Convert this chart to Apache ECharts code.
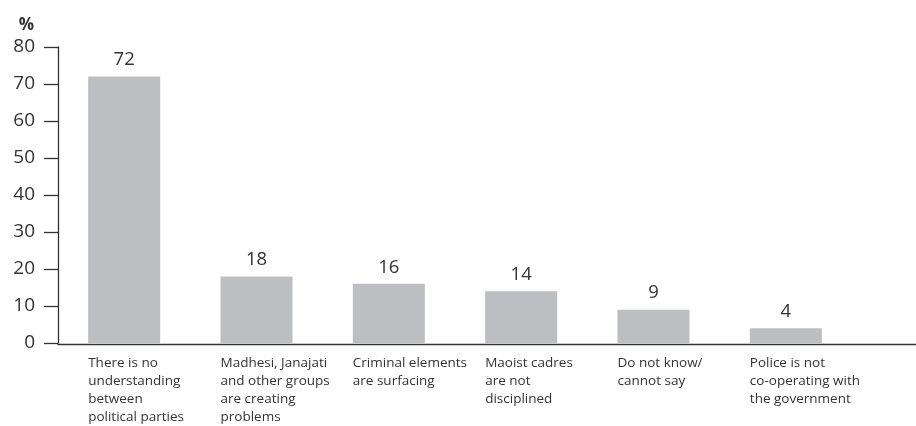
<!DOCTYPE html>
<html>
<head>
<meta charset="utf-8">
<script src="https://cdn.jsdelivr.net/npm/echarts@6/dist/echarts.min.js"></script>
<style>
  html, body { margin: 0; padding: 0; background: #fff; }
  #main { width: 916px; height: 426px; }
</style>
</head>
<body>
<div id="main"></div>
<script>
var categories = [
    'There is no\nunderstanding\nbetween\npolitical parties',
    'Madhesi, Janajati\nand other groups\nare creating\nproblems',
    'Criminal elements\nare surfacing',
    'Maoist cadres\nare not\ndisciplined',
    'Do not know/\ncannot say',
    'Police is not\nco-operating with\nthe government'
];
var values = [72, 18, 16, 14, 9, 4];
var yTicks = [0, 80, 10]; // min, max, interval

var font = '"Open Sans", "Noto Sans", sans-serif';
var txt = '#333';
var chart = echarts.init(document.getElementById('main'));

var option = {
    animation: false,
    backgroundColor: '#fff',
    textStyle: { fontFamily: font },
    grid: [
        { left: 58, right: 64, top: 47, bottom: 82 },
        { left: 58, right: 0, top: 47, bottom: 82 }   // only carries the long baseline
    ],
    xAxis: [{
        type: 'category',
        gridIndex: 0,
        data: categories,
        axisLine: { show: false },
        axisTick: { show: false },
        axisLabel: {
            interval: 0,
            margin: 11,
            color: txt,
            fontFamily: font,
            fontSize: 13.5,
            lineHeight: 18,
            formatter: function (v) {
                return v.split('\n').map(function (s) { return '{a|' + s + '}'; }).join('\n');
            },
            rich: {
                a: { width: 72, align: 'left', fontSize: 13.5, lineHeight: 18, color: txt, fontFamily: font }
            }
        }
    }, {
        type: 'value',
        gridIndex: 1,
        min: 0, max: 1,
        axisLine: { show: true, lineStyle: { color: '#333', width: 1.3 } },
        axisTick: { show: false },
        axisLabel: { show: false },
        splitLine: { show: false }
    }],
    yAxis: [{
        type: 'value',
        gridIndex: 0,
        min: yTicks[0],
        max: yTicks[1],
        interval: yTicks[2],
        name: '%',
        nameLocation: 'end',
        nameGap: 13,
        nameTextStyle: {
            fontWeight: 'bold', fontSize: 17, color: txt,
            align: 'right', padding: [0, 24, 0, 0], fontFamily: font
        },
        axisLine: { show: true, lineStyle: { color: '#333', width: 1.3 } },
        axisTick: { show: true, inside: false, length: 14, lineStyle: { color: '#333', width: 1.3 } },
        axisLabel: { margin: 23, fontSize: 19, color: txt, fontFamily: font },
        splitLine: { show: false }
    }, {
        type: 'value',
        gridIndex: 1,
        show: false
    }],
    series: [{
        type: 'bar',
        xAxisIndex: 0,
        yAxisIndex: 0,
        data: values,
        barWidth: 72,
        itemStyle: { color: '#bdbec2' },
        label: {
            show: true,
            position: 'top',
            distance: 7,
            fontSize: 18.5,
            color: txt,
            fontFamily: font
        }
    }]
};

chart.setOption(option);
</script>
</body>
</html>
